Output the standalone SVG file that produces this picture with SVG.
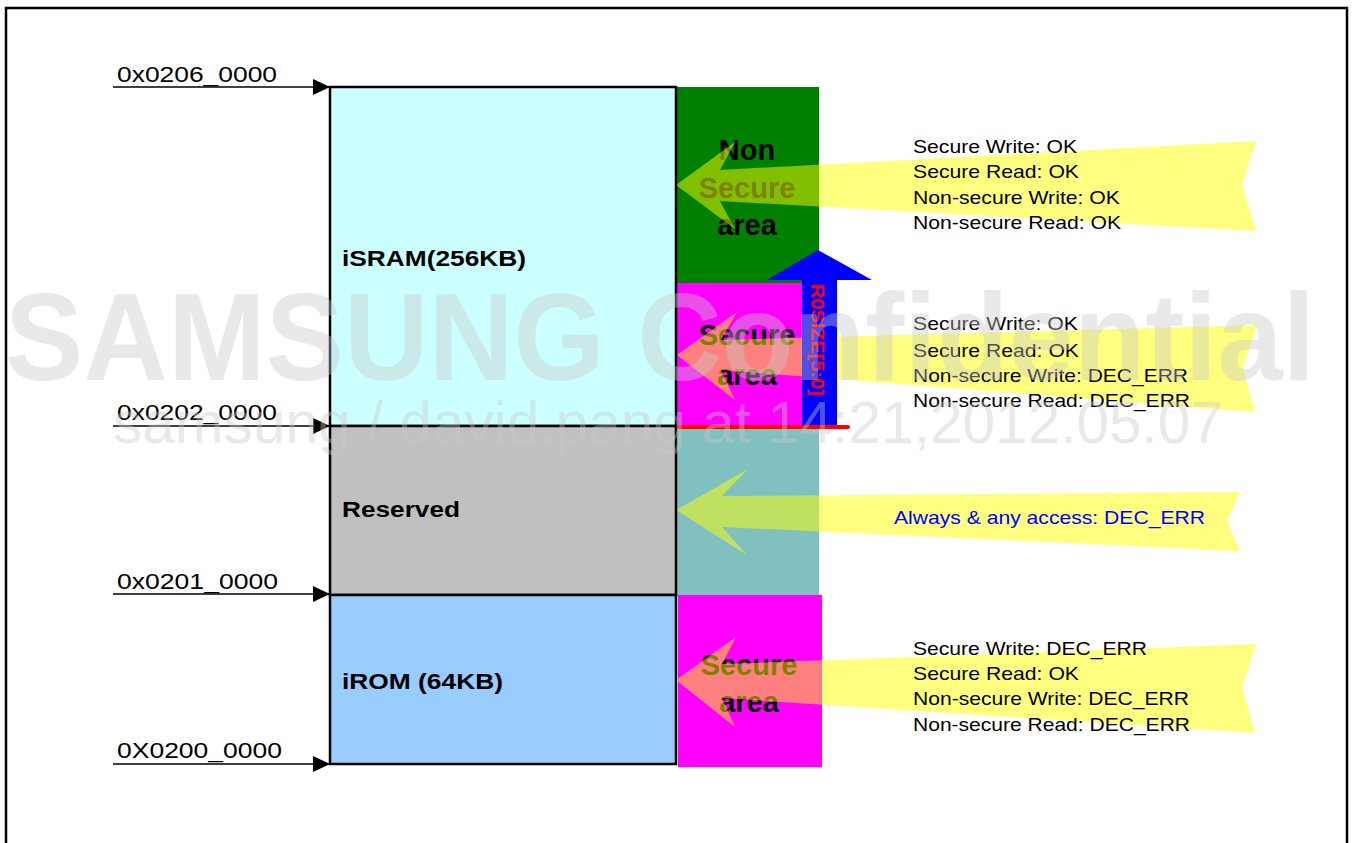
<svg xmlns="http://www.w3.org/2000/svg" width="1353" height="843" viewBox="0 0 1353 843">
<style>
.addr{font-family:"Liberation Sans",Arial,sans-serif;font-size:22px;fill:#000}
.blk{font-family:"Liberation Sans",Arial,sans-serif;font-size:22px;font-weight:bold;fill:#000}
.reg{font-family:"Liberation Sans",Arial,sans-serif;font-size:29px;font-weight:bold;fill:#000;text-anchor:middle}
.acc{font-family:"Liberation Sans",Arial,sans-serif;font-size:19px;fill:#000}
.yarrow{fill:#FFFF00;fill-opacity:0.5}
.box{stroke:#000;stroke-width:2.5}
.conn{stroke:#000;stroke-width:1.5;fill:none}
.wm{font-family:"Liberation Sans",Arial,sans-serif;fill:#c8c8c8;fill-opacity:0.4}
</style>
<defs>
<marker id="ah" markerUnits="userSpaceOnUse" markerWidth="18" markerHeight="16" refX="17" refY="8" orient="auto">
<path d="M0,0 L17,8 L0,16 Z" fill="#000"/>
</marker>
</defs>
<rect x="0" y="0" width="1353" height="843" fill="#fff"/>
<rect x="6" y="8" width="1341" height="860" fill="none" stroke="#000" stroke-width="2.5"/>

<g id="region-nonsecure">
<rect x="676" y="87" width="143" height="196" fill="#008000"/>
<text class="reg" x="747" y="160">Non</text>
<text class="reg" x="747" y="198">Secure</text>
<text class="reg" x="747" y="235">area</text>
</g>
<g id="region-secure-sram">
<rect x="676" y="283" width="126" height="143" fill="#FF00FF"/>
<text class="reg" x="747" y="345">Secure</text>
<text class="reg" x="747" y="385">area</text>
</g>
<g id="region-reserved">
<rect x="676" y="428" width="143" height="167" fill="#80C0C0"/>
</g>
<g id="region-secure-rom">
<rect x="678" y="595" width="144" height="172" fill="#FF00FF"/>
<text class="reg" x="749" y="675">Secure</text>
<text class="reg" x="749" y="712">area</text>
</g>

<g id="access-arrows">
<polygon class="yarrow" points="676,185 735,142 720,170 1256,141 1242,185 1256,231 720,201 735,229"/>
<polygon class="yarrow" points="677,355 737,312 721,340 1257,325 1243,368 1255,412 721,370 735,400"/>
<polygon class="yarrow" points="676,510 748,469 722,496 1240,492 1227,521 1240,551 722,527 747,555"/>
<polygon class="yarrow" points="676,680 736,637 722,664 1256,644 1242,687 1255,733 722,698 735,727"/>
</g>

<g id="rosize-arrow">
<polygon points="818,250 872,280 837,280 837,426 802,426 802,280 767,280" fill="#0000FF"/>
<text x="811" y="284" transform="rotate(90 811 284)" font-family="Liberation Sans,Arial,sans-serif" font-size="19" font-weight="bold" fill="#FF0000" textLength="112" lengthAdjust="spacingAndGlyphs">R0SIZE[5:0]</text>
</g>
<line x1="678" y1="427" x2="848" y2="427" stroke="#FF0000" stroke-width="4" stroke-linecap="round"/>

<g id="isram">
<rect class="box" x="330" y="87" width="346" height="339" fill="#CCFFFF"/>
<text class="blk" x="342" y="266" textLength="184" lengthAdjust="spacingAndGlyphs">iSRAM(256KB)</text>
</g>
<g id="reserved">
<rect class="box" x="330" y="426" width="346" height="169" fill="#C0C0C0"/>
<text class="blk" x="342" y="517" textLength="118" lengthAdjust="spacingAndGlyphs">Reserved</text>
</g>
<g id="irom">
<rect class="box" x="330" y="595" width="346" height="169" fill="#99CCFF"/>
<text class="blk" x="342" y="689" textLength="161" lengthAdjust="spacingAndGlyphs">iROM (64KB)</text>
</g>

<g id="connectors">
<line class="conn" x1="113" y1="87" x2="330" y2="87" marker-end="url(#ah)"/>
<line class="conn" x1="113" y1="426" x2="330" y2="426" marker-end="url(#ah)"/>
<line class="conn" x1="113" y1="594" x2="330" y2="594" marker-end="url(#ah)"/>
<line class="conn" x1="113" y1="764" x2="330" y2="764" marker-end="url(#ah)"/>
</g>
<g id="addresses">
<text class="addr" x="117" y="82" textLength="160" lengthAdjust="spacingAndGlyphs">0x0206_0000</text>
<text class="addr" x="117" y="420" textLength="160" lengthAdjust="spacingAndGlyphs">0x0202_0000</text>
<text class="addr" x="117" y="589" textLength="161" lengthAdjust="spacingAndGlyphs">0x0201_0000</text>
<text class="addr" x="117" y="758" textLength="165" lengthAdjust="spacingAndGlyphs">0X0200_0000</text>
</g>

<g id="access-nonsecure">
<text class="acc" x="913" y="153" textLength="164" lengthAdjust="spacingAndGlyphs">Secure Write: OK</text>
<text class="acc" x="913" y="178" textLength="166" lengthAdjust="spacingAndGlyphs">Secure Read: OK</text>
<text class="acc" x="913" y="204" textLength="207" lengthAdjust="spacingAndGlyphs">Non-secure Write: OK</text>
<text class="acc" x="913" y="229" textLength="208" lengthAdjust="spacingAndGlyphs">Non-secure Read: OK</text>
</g>
<g id="access-secure-sram">
<text class="acc" x="913" y="330" textLength="165" lengthAdjust="spacingAndGlyphs">Secure Write: OK</text>
<text class="acc" x="913" y="357" textLength="166" lengthAdjust="spacingAndGlyphs">Secure Read: OK</text>
<text class="acc" x="913" y="382" textLength="275" lengthAdjust="spacingAndGlyphs">Non-secure Write: DEC_ERR</text>
<text class="acc" x="913" y="407" textLength="277" lengthAdjust="spacingAndGlyphs">Non-secure Read: DEC_ERR</text>
</g>
<g id="access-reserved">
<text class="acc" x="894" y="524" style="fill:#0000FF" textLength="311" lengthAdjust="spacingAndGlyphs">Always &amp; any access: DEC_ERR</text>
</g>
<g id="access-rom">
<text class="acc" x="913" y="655" textLength="234" lengthAdjust="spacingAndGlyphs">Secure Write: DEC_ERR</text>
<text class="acc" x="913" y="680" textLength="166" lengthAdjust="spacingAndGlyphs">Secure Read: OK</text>
<text class="acc" x="913" y="705" textLength="276" lengthAdjust="spacingAndGlyphs">Non-secure Write: DEC_ERR</text>
<text class="acc" x="913" y="731" textLength="277" lengthAdjust="spacingAndGlyphs">Non-secure Read: DEC_ERR</text>
</g>

<g id="watermark">
<text class="wm" x="5" y="380" font-size="125" font-weight="bold" textLength="1310" lengthAdjust="spacingAndGlyphs">SAMSUNG Confidential</text>
<text class="wm" x="113" y="443" font-size="60" textLength="1110" lengthAdjust="spacingAndGlyphs">samsung / david.pang at 14:21,2012.05.07</text>
</g>
</svg>
